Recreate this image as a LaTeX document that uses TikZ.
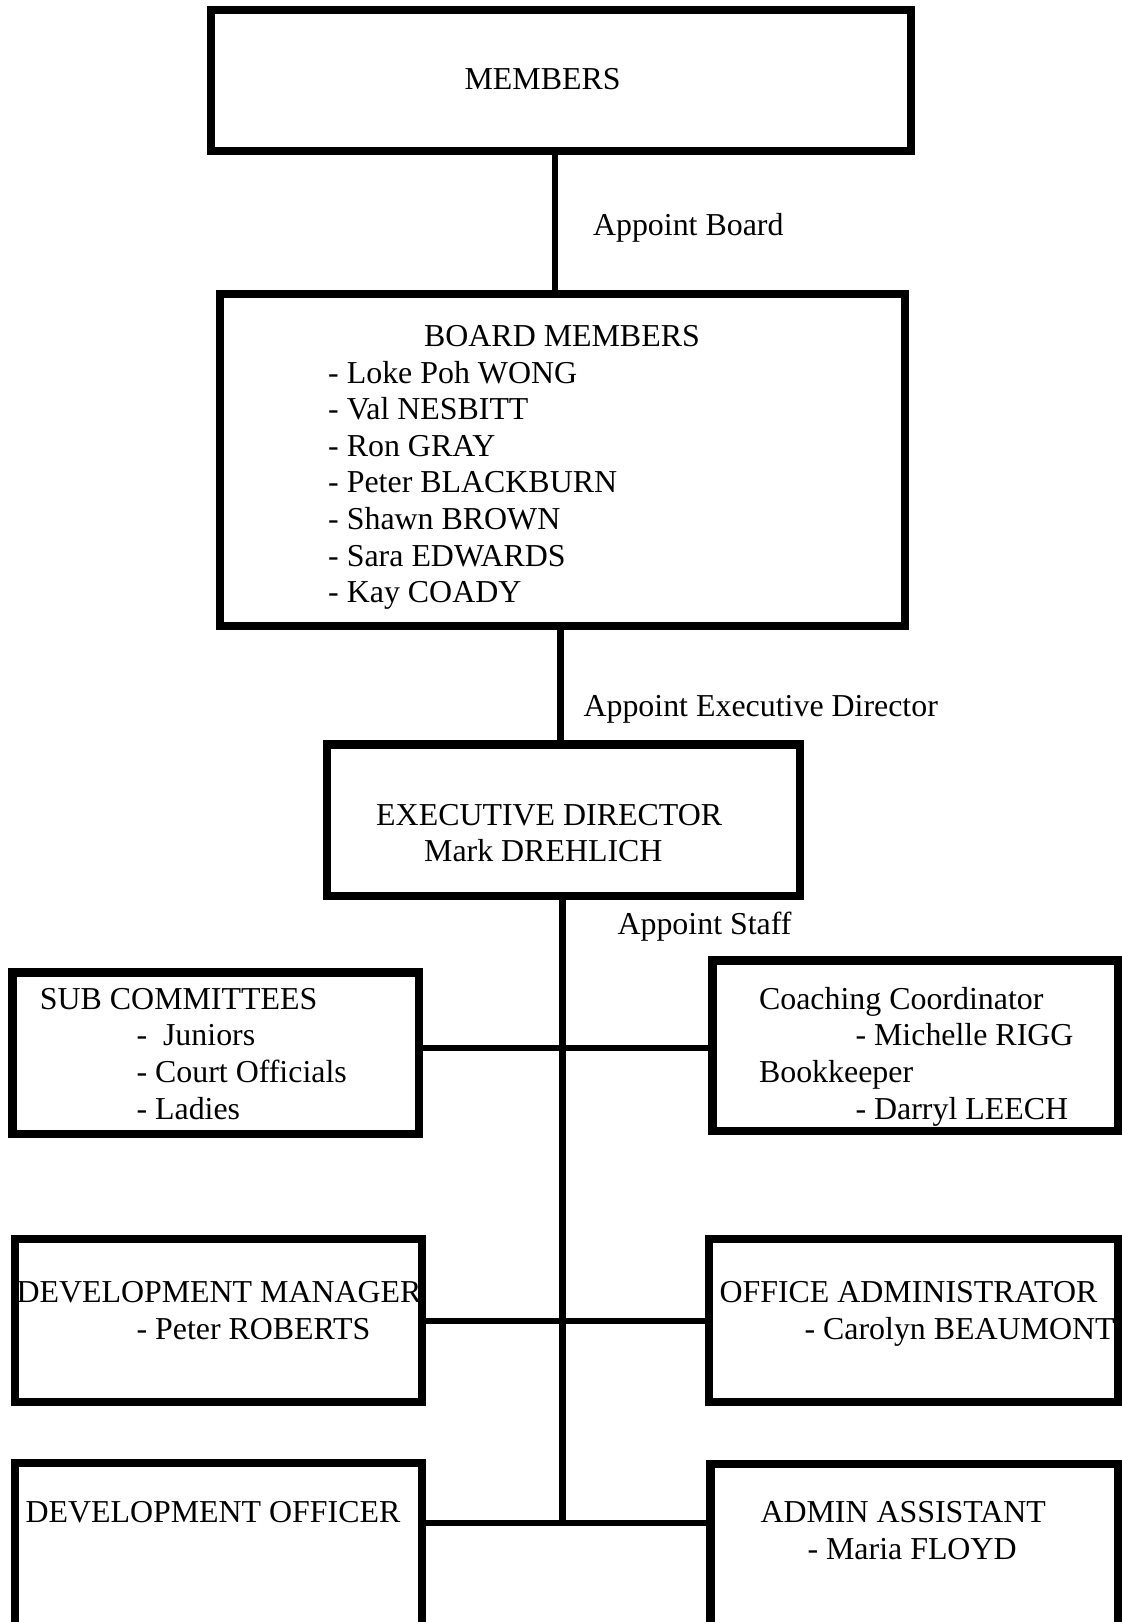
\documentclass[tikz,border=0pt]{standalone}
\usepackage{fontspec}
\setmainfont{Liberation Serif}
\newlength\pxl
\setlength\pxl{0.013cm}
\newcommand\txtlines[1]{\begin{tabular}[t]{@{}l@{}}#1\end{tabular}}

\begin{document}
\begin{tikzpicture}[x=0.013cm, y=-0.013cm, font=\fontsize{11.8}{13.54}\selectfont,
    link/.style={line width=6.5\pxl}]
\useasboundingbox (0,0) rectangle (1122,1622);
\clip (0,0) rectangle (1122,1622);

\begin{scope}[every node/.style={draw, line width=8.3\pxl, inner sep=0pt, outer sep=0pt}]
    \node[minimum width=700\pxl, minimum height=141\pxl] (members) at (561,80.5) {};
    \node[minimum width=685\pxl, minimum height=332\pxl] (board) at (562.5,460) {};
    \node[minimum width=472.4\pxl, minimum height=151.4\pxl] (exec) at (563.5,820.3) {};
    \node[minimum width=406.3\pxl, minimum height=161.4\pxl] (sub) at (215.6,1053.3) {};
    \node[minimum width=405.7\pxl, minimum height=170.4\pxl] (coach) at (915.2,1045.8) {};
    \node[minimum width=407\pxl, minimum height=162.9\pxl] (devmgr) at (218.4,1320.3) {};
    \node[minimum width=409.3\pxl, minimum height=162.9\pxl] (office) at (913.4,1320.3) {};
    \node[minimum width=407\pxl, minimum height=177\pxl] (devoff) at (218.4,1551.5) {};
    \node[minimum width=407.4\pxl, minimum height=176\pxl] (admin) at (914.3,1552) {};
\end{scope}

\begin{scope}[every node/.style={anchor=base west, inner sep=0pt}]
    \node (members-txt) at (464,89) {MEMBERS};
    \node (board-lbl) at (592.5,235) {Appoint Board};
    \node (board-txt) at (423.6,346) {BOARD MEMBERS};
    \node (board-list) at (327.7,383) {\txtlines{- Loke Poh WONG\\ - Val NESBITT\\ - Ron GRAY\\
        - Peter BLACKBURN\\ - Shawn BROWN\\ - Sara EDWARDS\\ - Kay COADY}};
    \node (exec-lbl) at (583,716) {Appoint Executive Director};
    \node (exec-txt) at (375.7,825) {\txtlines{EXECUTIVE DIRECTOR\\ \hspace*{47.9\pxl}Mark DREHLICH}};
    \node (staff-lbl) at (617,934) {Appoint Staff};
    \node (sub-txt) at (39.4,1009.3) {\txtlines{SUB COMMITTEES\\ \hspace*{96.6\pxl}-\ \ Juniors\\
        \hspace*{96.6\pxl}- Court Officials\\ \hspace*{96.6\pxl}- Ladies}};
    \node (coach-txt) at (758.5,1009.3) {\txtlines{Coaching Coordinator\\ \hspace*{96.5\pxl}- Michelle RIGG\\
        Bookkeeper\\ \hspace*{96.5\pxl}- Darryl LEECH}};
    \node (devmgr-txt) at (16,1302.7) {\txtlines{DEVELOPMENT MANAGER\\ \hspace*{120\pxl}- Peter ROBERTS}};
    \node (office-txt) at (719,1302.7) {\txtlines{OFFICE ADMINISTRATOR\\ \hspace*{85\pxl}- Carolyn BEAUMONT}};
    \node (devoff-txt) at (25,1522.7) {DEVELOPMENT OFFICER};
    \node (admin-txt) at (760,1522.7) {\txtlines{ADMIN ASSISTANT\\ \hspace*{47\pxl}- Maria FLOYD}};
\end{scope}

% staff junctions on the spine
\coordinate (j1) at (562.5,1048);
\coordinate (j2) at (562.5,1321);
\coordinate (j3) at (562.5,1523);

\begin{scope}[every path/.style={link}]
    \draw ([xshift=-6\pxl]members.south) -- ([xshift=-7.5\pxl]board.north);
    \draw ([xshift=-2\pxl]board.south) -- ([xshift=-3\pxl]exec.north);
    \draw (exec.south -| j3) -- (j3);
    \draw (j1 -| sub.east) -- (j1 -| coach.west);
    \draw (j2 -| devmgr.east) -- (j2 -| office.west);
    \draw (j3 -| devoff.east) -- (j3 -| admin.west);
\end{scope}
\end{tikzpicture}
\end{document}
